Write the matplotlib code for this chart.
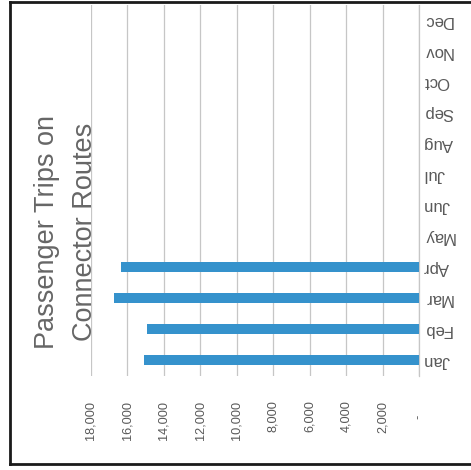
import matplotlib.pyplot as plt
from matplotlib.lines import Line2D

months = ['Jan', 'Feb', 'Mar', 'Apr', 'May', 'Jun',
          'Jul', 'Aug', 'Sep', 'Oct', 'Nov', 'Dec']
trips = [15100, 14900, 16750, 16350, 0, 0, 0, 0, 0, 0, 0, 0]
ticks = [0, 2000, 4000, 6000, 8000, 10000, 12000, 14000, 16000, 18000]
tick_labels = ['-    ', '2,000', '4,000', '6,000', '8,000', '10,000',
               '12,000', '14,000', '16,000', '18,000']

plt.rcParams['font.family'] = ['Liberation Sans', 'DejaVu Sans']

fig = plt.figure(figsize=(4.71, 4.70), dpi=100)
ax = fig.add_axes([0.193, 0.201, 0.697, 0.789])

pos = list(range(len(months)))
ax.barh(pos, trips, height=0.33, color='#3592cc', zorder=3)

ax.set_xlim(18000, 0)
ax.set_ylim(-0.5, len(months) - 0.5)
ax.set_xticks(ticks)
ax.set_xticklabels(tick_labels, rotation=90, va='top', ha='center',
                   fontsize=9.2, color='#595959')
ax.yaxis.tick_right()
ax.set_yticks(pos)
ax.set_yticklabels(months, rotation=180, ha='left', va='center',
                   fontsize=12, color='#595959')
ax.tick_params(axis='x', length=0, pad=18)
ax.tick_params(axis='y', length=0, pad=3)
ax.grid(axis='x', color='#c6c6c6', linewidth=0.9, zorder=0)

for side in ['top', 'bottom', 'left']:
    ax.spines[side].set_visible(False)
ax.spines['right'].set_color('#c6c6c6')
ax.spines['right'].set_linewidth(0.9)

# chart title, written sideways along the left
fig.text(0.14, 0.506, 'Passenger Trips on\nConnector Routes', rotation=90,
         ha='center', va='center', fontsize=19.5, color='#666666',
         linespacing=1.6)

# outer frame
fig.add_artist(Line2D([0.022, 0.022], [0.012, 0.995], color='#1a1a1a',
                      linewidth=2, transform=fig.transFigure))
fig.add_artist(Line2D([0.022, 1.0], [0.012, 0.012], color='#1a1a1a',
                      linewidth=2, transform=fig.transFigure))
fig.add_artist(Line2D([0.022, 1.0], [0.995, 0.995], color='#1a1a1a',
                      linewidth=2, transform=fig.transFigure))

fig.savefig('out.png', dpi=100)
